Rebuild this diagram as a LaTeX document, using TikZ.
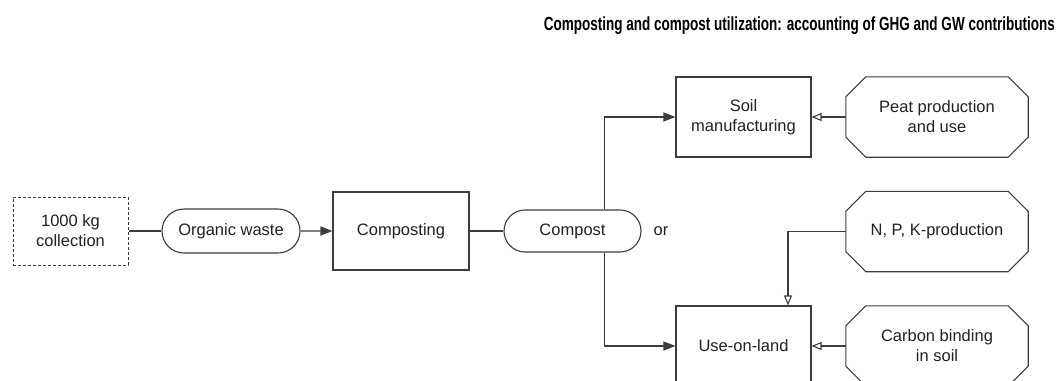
\documentclass[tikz,border=0pt]{standalone}
\usepackage{fontspec}
\setmainfont{Liberation Sans}
\usetikzlibrary{arrows.meta,shapes.misc}
\definecolor{ln}{HTML}{3C3C3C}
\definecolor{tx}{HTML}{222222}
\newcommand\octa[1]{\draw[line] ([xshift=20pt]#1.north west) -- ([xshift=-20pt]#1.north east) -- ([yshift=-20pt]#1.north east) -- ([yshift=20pt]#1.south east) -- ([xshift=-20pt]#1.south east) -- ([xshift=20pt]#1.south west) -- ([yshift=20pt]#1.south west) -- ([yshift=-20pt]#1.north west) -- cycle;}
\tikzset{
  line/.style={draw=ln, line width=1.1pt},
  lbl/.style={text=tx, font=\fontsize{16.5}{20}\selectfont, align=center, inner sep=0pt},
  box/.style={lbl, line, rectangle},
  dashbox/.style={lbl, draw=ln, line width=1pt, dash pattern=on 3pt off 2pt},
  pill/.style={lbl, line, rounded rectangle},
  octnode/.style={lbl, rectangle, minimum width=182pt, minimum height=80pt},
  fa/.style={line, -{Triangle[length=12pt,width=9pt]}},
  oa/.style={line, -{Triangle[open,length=10pt,width=8pt,line width=1.1pt]}},
}
\begin{document}
\begin{tikzpicture}[x=1pt,y=-1pt]
\useasboundingbox (0,0) rectangle (1059,380);
\fill[white] (0,0) rectangle (1059,380);
\clip (0,0) rectangle (1059,380);
\node[anchor=east, inner sep=0pt, text=black] (title) at (1055,26) {\resizebox{511pt}{\height}{\fontsize{19}{22}\selectfont\bfseries Composting and compost utilization: accounting of GHG and GW contributions}};
\node[dashbox, minimum width=115pt, minimum height=68pt] (coll) at (70.5,231) {1000 kg\\collection};
\node[pill, minimum width=138pt, minimum height=44pt] (org) at (231,231) {Organic waste};
\node[box, minimum width=136pt, minimum height=78pt] (comp) at (401,231) {Composting};
\node[pill, minimum width=137pt, minimum height=42pt] (compost) at (572.5,231) {Compost};
\node[lbl] (or) at (661,231) {or};
\node[box, minimum width=135pt, minimum height=80pt] (soil) at (743.5,117) {Soil\\manufacturing};
\node[box, minimum width=135pt, minimum height=80pt] (use) at (743.5,346) {Use-on-land};
\node[octnode] (peat) at (937,117) {Peat production\\and use};
\node[octnode] (npk) at (937,231.5) {N, P, K-production};
\node[octnode] (carbon) at (937,346) {Carbon binding\\in soil};
\octa{peat}
\octa{npk}
\octa{carbon}
\draw[line] (coll) -- (org);
\draw[fa] (org) -- (comp);
\draw[line] (comp) -- (compost);
\draw[fa] ([xshift=32pt]compost.north) |- (soil.west);
\draw[fa] ([xshift=32pt]compost.south) |- (use.west);
\draw[oa] (peat.west) -- (soil.east);
\draw[oa] (carbon.west) -- (use.east);
\draw[oa] (npk.west) -| ([xshift=44.5pt]use.north);
\end{tikzpicture}
\end{document}
